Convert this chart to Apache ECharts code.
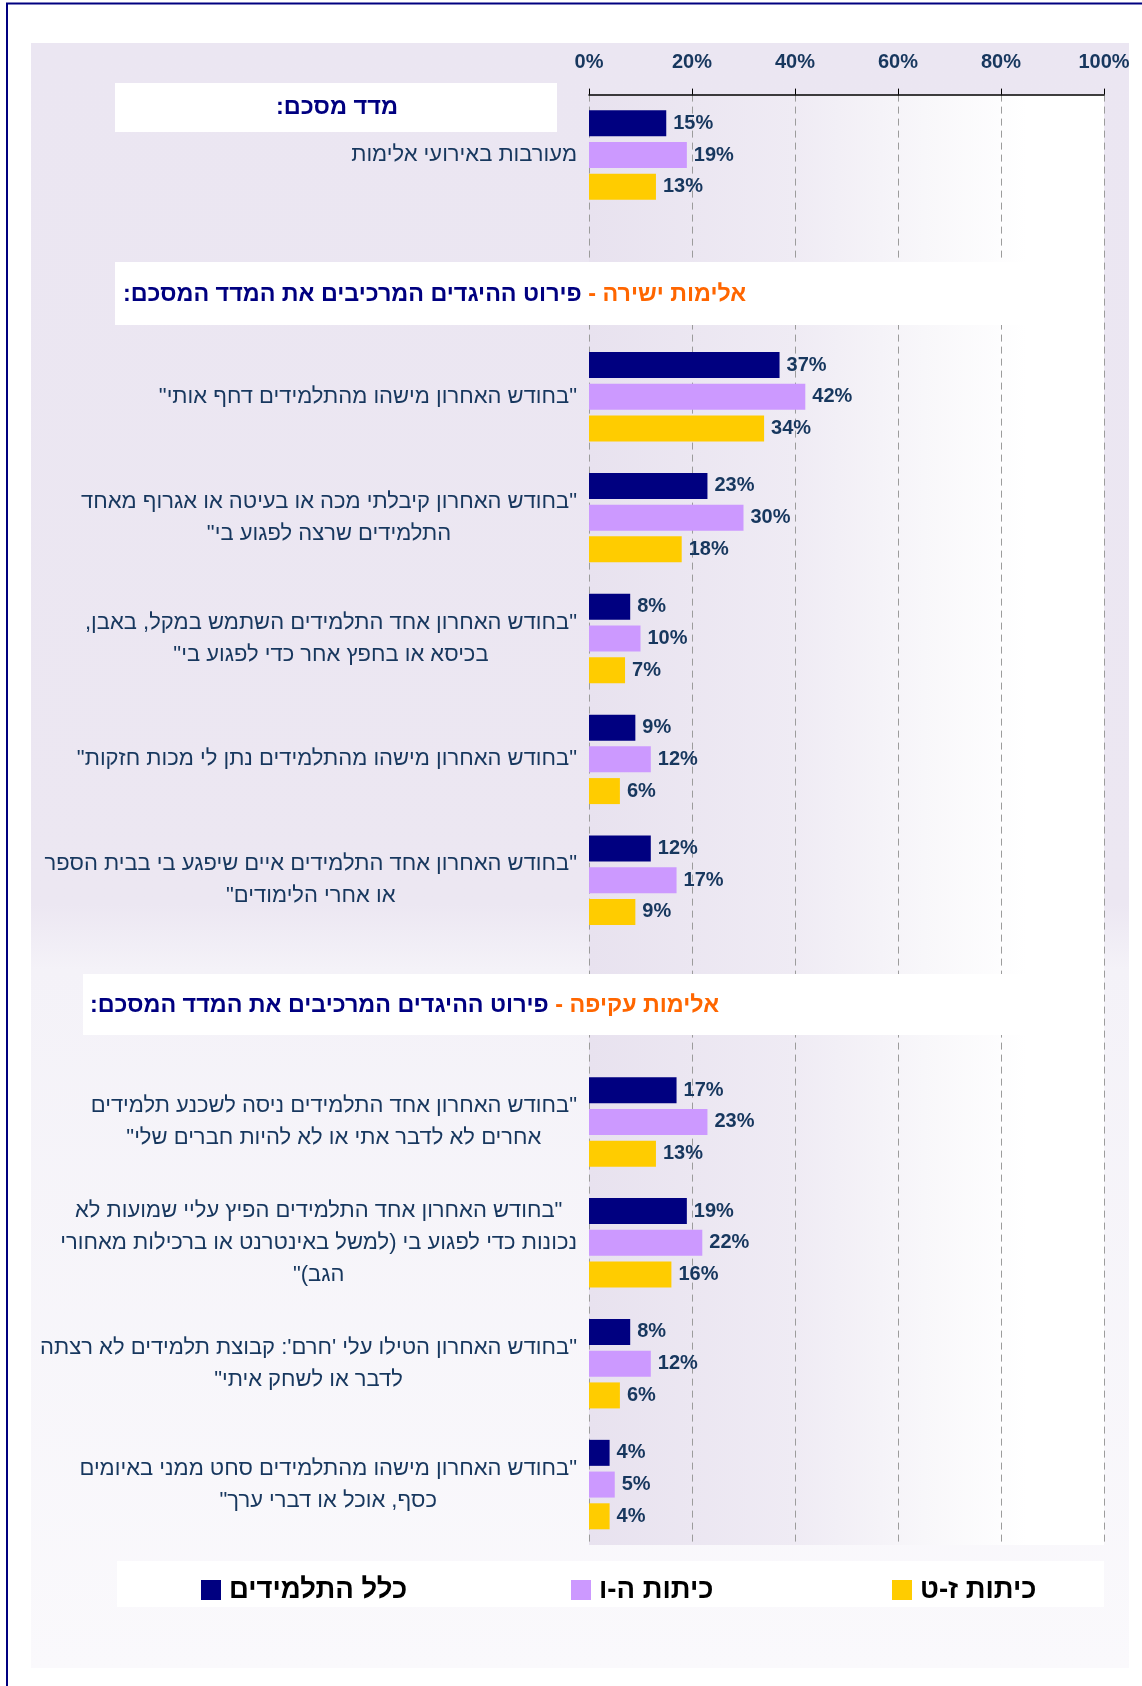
<!DOCTYPE html>
<html>
<head>
<meta charset="utf-8">
<script src="https://cdn.jsdelivr.net/npm/echarts@6/dist/echarts.min.js"></script>
<style>
  html, body { margin: 0; padding: 0; background: #fff; }
  #chart { width: 1142px; height: 1686px; }
</style>
</head>
<body>
<div id="chart" dir="rtl"></div>
<script>
// categories, top to bottom ('' = slot used by a section header)
const categories = [
  'מעורבות באירועי אלימות',
  '',
  '"בחודש האחרון מישהו מהתלמידים דחף אותי"',
  '"בחודש האחרון קיבלתי מכה או בעיטה או אגרוף מאחד\nהתלמידים שרצה לפגוע בי"',
  '"בחודש האחרון אחד התלמידים השתמש במקל, באבן,\nבכיסא או בחפץ אחר כדי לפגוע בי"',
  '"בחודש האחרון מישהו מהתלמידים נתן לי מכות חזקות"',
  '"בחודש האחרון אחד התלמידים איים שיפגע בי בבית הספר\nאו אחרי הלימודים"',
  '',
  '"בחודש האחרון אחד התלמידים ניסה לשכנע תלמידים\nאחרים לא לדבר אתי או לא להיות חברים שלי"',
  '"בחודש האחרון אחד התלמידים הפיץ עליי שמועות לא\nנכונות כדי לפגוע בי (למשל באינטרנט או ברכילות מאחורי\nהגב)"',
  '"בחודש האחרון הטילו עלי \'חרם\': קבוצת תלמידים לא רצתה\nלדבר או לשחק איתי"',
  '"בחודש האחרון מישהו מהתלמידים סחט ממני באיומים\nכסף, אוכל או דברי ערך"'
];

const seriesNames = ['כלל התלמידים', 'כיתות ה-ו', 'כיתות ז-ט'];
const allStudents = [15, '-', 37, 23, 8, 9, 12, '-', 17, 19, 8, 4];
const grades5to6 = [19, '-', 42, 30, 10, 12, 17, '-', 23, 22, 12, 5];
const grades7to9 = [13, '-', 34, 18, 7, 6, 9, '-', 13, 16, 6, 4];

const xTicks = [0, 20, 40, 60, 80, 100];

const summaryHeader = 'מדד מסכם:';
const directHeader = ['אלימות ישירה - ', 'פירוט ההיגדים המרכיבים את המדד המסכם:'];
const indirectHeader = ['אלימות עקיפה - ', 'פירוט ההיגדים המרכיבים את המדד המסכם:'];

const NAVY = '#000080';
const TEXT = '#17375e';
const ORANGE = '#ff6600';
const FONT = '"Liberation Sans", Arial, sans-serif';

// legend item left edges (one legend per item so the spacing can follow the picture)
const legendLefts = [196, 566, 887];

const chart = echarts.init(document.getElementById('chart'));

const headerRich = {
  o: { fill: ORANGE, font: 'bold 23.3px ' + FONT },
  n: { fill: NAVY, font: 'bold 23.3px ' + FONT }
};

const option = {
  backgroundColor: '#ffffff',
  animation: false,
  textStyle: { fontFamily: FONT },
  grid: {
    left: 589,
    right: 38,
    top: 94.6,
    bottom: 141,
    show: true,
    borderWidth: 0,
    outerBoundsMode: 'none',
    backgroundColor: {
      type: 'linear', x: 0, y: 0, x2: 1, y2: 0,
      colorStops: [
        { offset: 0, color: '#e8e2ef' },
        { offset: 0.4, color: '#efebf4' },
        { offset: 0.65, color: '#f8f7fa' },
        { offset: 0.85, color: '#ffffff' },
        { offset: 1, color: '#ffffff' }
      ]
    }
  },
  xAxis: {
    type: 'value',
    position: 'top',
    min: xTicks[0],
    max: xTicks[xTicks.length - 1],
    interval: 20,
    axisLine: { show: true, lineStyle: { color: '#000', width: 1.5 } },
    axisTick: { show: true, length: 6, lineStyle: { color: '#000', width: 1 } },
    axisLabel: {
      margin: 22,
      fontSize: 20,
      fontWeight: 'bold',
      color: TEXT,
      formatter: '{value}%'
    },
    splitLine: { show: true, lineStyle: { color: '#9c9c9c', width: 1, type: [7, 5] } }
  },
  yAxis: {
    type: 'category',
    inverse: true,
    data: categories,
    axisLine: { show: false },
    axisTick: { show: false },
    splitLine: { show: false },
    axisLabel: {
      interval: 0,
      margin: 12,
      align: 'right',
      formatter: function (v) {
        if (!v) return '';
        return v.split('\n').map(l => '{c|' + l + '}').join('\n');
      },
      rich: {
        c: { align: 'center', fontSize: 22, lineHeight: 32, color: TEXT, fontFamily: FONT }
      }
    }
  },
  legend: seriesNames.map((name, i) => ({
    data: [name],
    left: legendLefts[i],
    top: 1571,
    itemWidth: 20,
    itemHeight: 20,
    icon: 'rect',
    selectedMode: false,
    textStyle: { fontSize: 27.5, fontWeight: 'bold', color: '#000', fontFamily: FONT, padding: [0, 0, 0, 3] }
  })),
  series: [
    { name: seriesNames[0], data: allStudents, color: NAVY },
    { name: seriesNames[1], data: grades5to6, color: '#cc99ff' },
    { name: seriesNames[2], data: grades7to9, color: '#ffcc00' }
  ].map(s => ({
    type: 'bar',
    name: s.name,
    data: s.data,
    barWidth: 26,
    barGap: '22%',
    itemStyle: { color: s.color },
    label: {
      show: true,
      position: 'right',
      distance: 7,
      formatter: '{c}%',
      fontSize: 20,
      fontWeight: 'bold',
      color: TEXT
    }
  })),
  graphic: {
    elements: [
      // page frame and panel background
      {
        type: 'rect', z: -5, silent: true,
        shape: { x: 31, y: 43, width: 1098, height: 1625 },
        style: {
          fill: {
            type: 'linear', x: 0, y: 0, x2: 0, y2: 1,
            colorStops: [
              { offset: 0, color: '#ebe6f2' },
              { offset: 0.53, color: '#ece7f2' },
              { offset: 0.57, color: '#f4f2f8' },
              { offset: 1, color: '#faf9fc' }
            ]
          }
        }
      },
      {
        type: 'rect', z: 10, silent: true,
        shape: { x: 7, y: 3.5, width: 1300, height: 1800 },
        style: { fill: 'none', stroke: NAVY, lineWidth: 2 }
      },
      // section headers
      { type: 'rect', z: 3, silent: true, shape: { x: 115, y: 83, width: 442, height: 49 }, style: { fill: '#fff' } },
      {
        type: 'text', z: 4, silent: true, x: 337, y: 108,
        style: { text: summaryHeader, fill: NAVY, font: 'bold 23.5px ' + FONT, align: 'center', verticalAlign: 'middle' }
      },
      { type: 'rect', z: 3, silent: true, shape: { x: 115, y: 262, width: 989, height: 63 }, style: { fill: '#fff' } },
      {
        type: 'text', z: 4, silent: true, x: 123, y: 295,
        style: {
          text: '{n|' + directHeader[1] + '}{o|' + directHeader[0] + '}',
          rich: headerRich, align: 'left', verticalAlign: 'middle'
        }
      },
      { type: 'rect', z: 3, silent: true, shape: { x: 83, y: 974, width: 1021, height: 61 }, style: { fill: '#fff' } },
      {
        type: 'text', z: 4, silent: true, x: 90, y: 1006,
        style: {
          text: '{n|' + indirectHeader[1] + '}{o|' + indirectHeader[0] + '}',
          rich: headerRich, align: 'left', verticalAlign: 'middle'
        }
      },
      // legend panel
      { type: 'rect', z: 3, silent: true, shape: { x: 117, y: 1561, width: 987, height: 46 }, style: { fill: '#fff' } }
    ]
  }
};

chart.setOption(option);
</script>
</body>
</html>
